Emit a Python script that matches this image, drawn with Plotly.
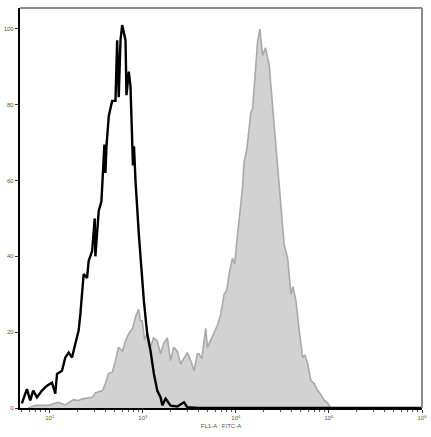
import plotly.graph_objects as go

# Unstained / control (black line): log10 FITC intensity and count
black_log = [1.700, 1.754, 1.790, 1.822, 1.862, 1.916, 1.970, 2.024, 2.059, 2.078, 2.131, 2.167,
             2.203, 2.239, 2.275, 2.310, 2.329, 2.364, 2.401, 2.418, 2.455, 2.483, 2.490, 2.526,
             2.555, 2.587, 2.598, 2.609, 2.634, 2.670, 2.706, 2.724, 2.741, 2.760, 2.778, 2.814,
             2.824, 2.849, 2.867, 2.886, 2.894, 2.905, 2.921, 2.957, 2.994, 3.011, 3.047, 3.083,
             3.119, 3.155, 3.191, 3.209, 3.245, 3.298, 3.371, 3.442, 3.478, 3.600, 4.500, 6.000]
black_cnt = [1.2, 5.0, 2.0, 4.6, 2.8, 4.6, 5.9, 6.7, 3.8, 9.0, 9.8, 13.3,
             14.6, 13.3, 17.0, 20.4, 24.8, 35.3, 34.3, 38.8, 41.4, 50.0, 40.0, 52.0,
             54.5, 69.5, 62.0, 69.0, 77.0, 81.0, 81.0, 97.0, 82.0, 97.0, 101.0, 97.0,
             82.5, 88.7, 85.0, 69.5, 64.0, 69.0, 60.0, 45.8, 32.7, 28.3, 19.5, 15.0,
             9.0, 4.6, 2.8, 0.7, 2.5, 0.6, 0.4, 1.5, 0.2, 0.0, 0.0, 0.0]

# Stained sample (gray filled): log10 FITC intensity and count
gray_log = [1.768, 1.844, 1.984, 2.092, 2.167, 2.253, 2.307, 2.350, 2.458, 2.490, 2.566, 2.598,
            2.630, 2.673, 2.706, 2.738, 2.781, 2.814, 2.846, 2.889, 2.921, 2.954, 2.975, 2.994,
            3.018, 3.051, 3.083, 3.115, 3.155, 3.191, 3.223, 3.263, 3.298, 3.331, 3.371, 3.406,
            3.439, 3.478, 3.514, 3.550, 3.586, 3.603, 3.633, 3.676, 3.694, 3.730, 3.765, 3.805,
            3.837, 3.873, 3.902, 3.927, 3.963, 3.988, 4.010, 4.035, 4.053, 4.071, 4.088, 4.117,
            4.142, 4.161, 4.180, 4.196, 4.233, 4.258, 4.287, 4.318, 4.358, 4.376, 4.394, 4.419,
            4.448, 4.462, 4.484, 4.519, 4.556, 4.592, 4.613, 4.645, 4.681, 4.718, 4.742, 4.772,
            4.807, 4.840, 4.879, 4.915, 4.950, 4.980, 5.004, 5.023]
gray_cnt = [0.0, 0.7, 0.7, 1.5, 0.8, 2.2, 2.0, 2.4, 2.8, 4.0, 4.6, 6.4,
            9.0, 9.5, 12.5, 16.0, 15.0, 17.7, 19.5, 21.0, 24.0, 26.0, 23.0, 23.0,
            18.0, 20.0, 16.0, 18.5, 17.7, 14.3, 17.0, 18.5, 12.5, 16.0, 15.0, 11.6,
            13.0, 14.6, 12.5, 9.8, 14.3, 14.3, 13.0, 21.0, 16.0, 18.0, 19.5, 22.0,
            24.7, 30.0, 31.0, 35.3, 39.5, 38.0, 44.0, 50.0, 53.7, 58.0, 65.0, 68.0,
            73.7, 78.0, 79.0, 85.0, 96.6, 100.0, 93.0, 95.0, 90.5, 85.0, 80.0, 72.0,
            64.0, 60.0, 54.5, 43.0, 39.5, 30.0, 32.0, 28.3, 20.4, 13.3, 14.0, 11.6,
            7.2, 6.5, 4.6, 3.5, 2.0, 1.5, 0.6, 0.0]

y_ticks = [0, 20, 40, 60, 80, 100]
x_tick_vals = [1e2, 1e3, 1e4, 1e5, 1e6]
x_tick_text = ["10<sup>2</sup>", "10<sup>3</sup>", "10<sup>4</sup>", "10<sup>5</sup>", "10<sup>6</sup>"]
x_title = "FL1-A : FITC-A"

fig = go.Figure()
fig.add_trace(go.Scatter(
    x=[10 ** v for v in gray_log], y=gray_cnt, mode="lines",
    line=dict(color="#a9a9a9", width=1.6), fill="tozeroy", fillcolor="#d2d2d2",
    hoverinfo="skip", showlegend=False))
fig.add_trace(go.Scatter(
    x=[10 ** v for v in black_log], y=black_cnt, mode="lines",
    line=dict(color="#000000", width=2.4), hoverinfo="skip", showlegend=False))

# top and right frame lines (gray)
fig.add_shape(type="line", xref="paper", yref="paper", x0=0, x1=1, y0=1, y1=1,
              line=dict(color="#8a8a8a", width=2))
fig.add_shape(type="line", xref="paper", yref="paper", x0=1, x1=1, y0=0, y1=1,
              line=dict(color="#8a8a8a", width=2))

fig.update_layout(
    width=431, height=437,
    margin=dict(l=20, r=9, t=8, b=29, autoexpand=False),
    paper_bgcolor="white", plot_bgcolor="white",
    font=dict(family="Liberation Sans, Arial, sans-serif", size=6, color="#555555"),
    xaxis=dict(
        type="log", range=[1.68, 6.0], automargin=False,
        tickvals=x_tick_vals, ticktext=x_tick_text,
        ticks="outside", ticklen=3, tickwidth=1, tickcolor="#333333",
        minor=dict(ticks="outside", ticklen=2, tickcolor="#555555", dtick="D1", showgrid=False),
        showgrid=False, zeroline=False,
        showline=True, linecolor="#000000", linewidth=2,
        tickfont=dict(size=6, color="#555555"),
        title=dict(text=x_title, font=dict(size=6, color="#555555"), standoff=4),
    ),
    yaxis=dict(
        range=[0, 105.5], tickvals=y_ticks, automargin=False,
        ticks="outside", ticklen=3, tickwidth=1, tickcolor="#333333",
        showgrid=False, zeroline=False,
        showline=True, linecolor="#000000", linewidth=2.2,
        tickfont=dict(size=6, color="#555555"),
    ),
)

fig.write_html("out.html", config={"displayModeBar": False},
               post_script="document.body.style.margin='0';document.body.style.padding='0';")
